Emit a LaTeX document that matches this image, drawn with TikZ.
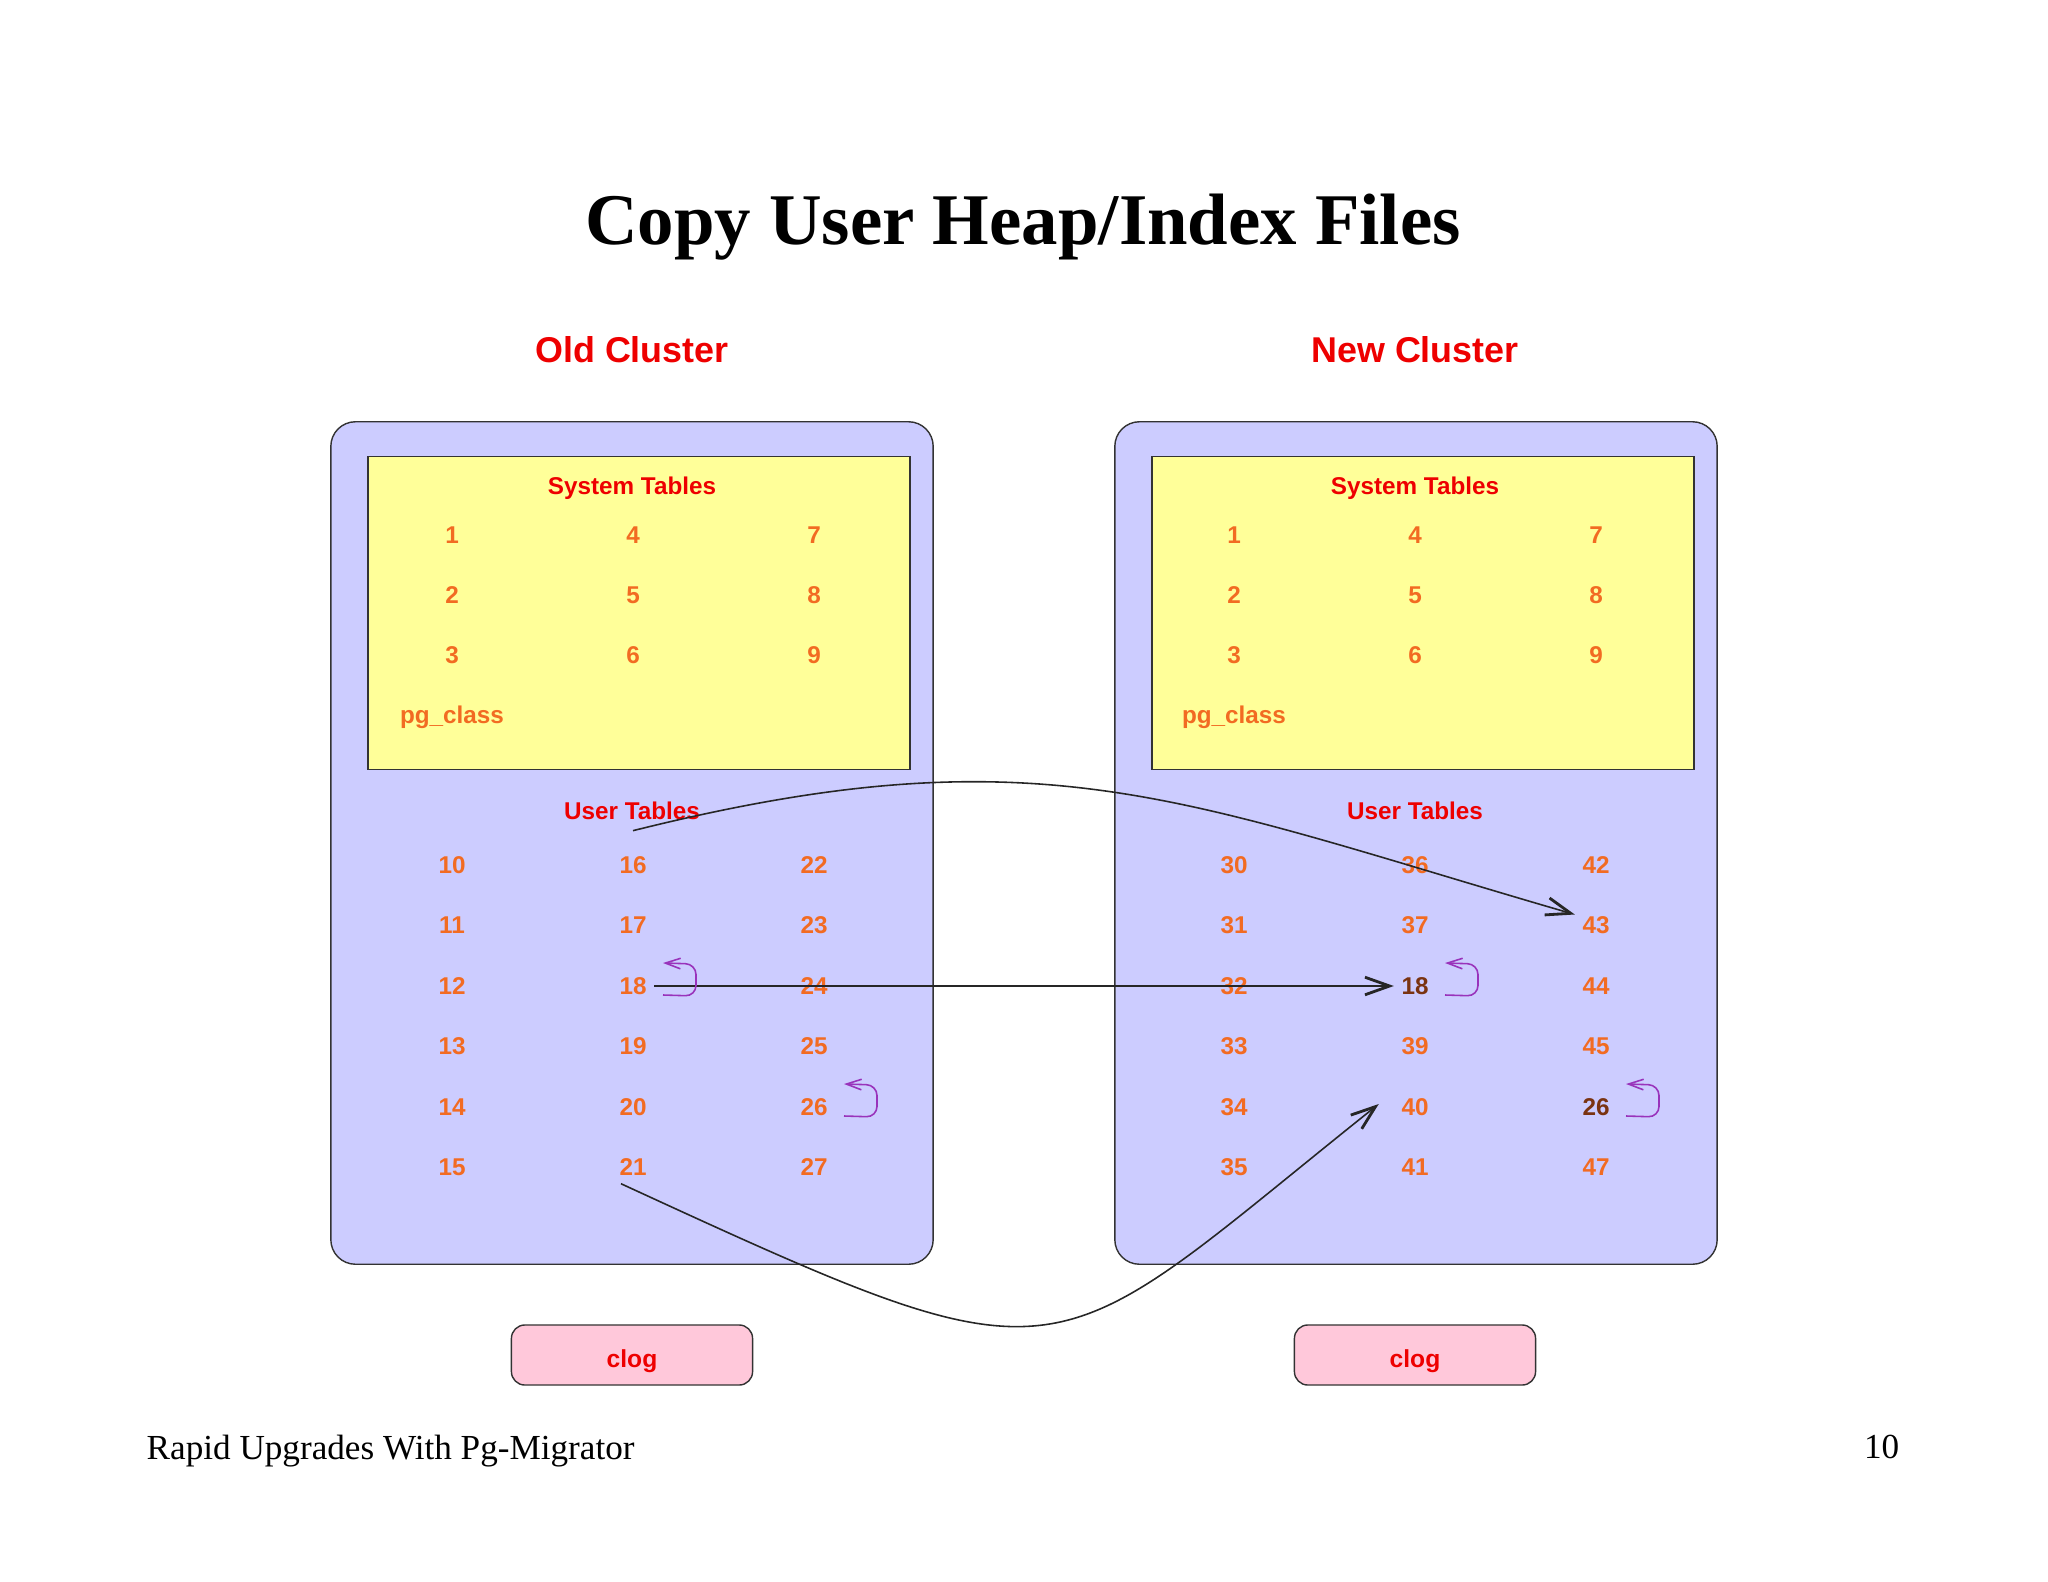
\documentclass[tikz,border=0pt]{standalone}
\usepackage{fontspec}
\setmainfont{Liberation Serif}
\setsansfont{Liberation Sans}
\usepackage{tikz}
\usetikzlibrary{positioning}
\usetikzlibrary{arrows.meta}
\usetikzlibrary{calc}
\definecolor{clusterblue}{HTML}{CCCCFF}
\definecolor{systemyellow}{HTML}{FFFF99}
\definecolor{clogpink}{HTML}{FFC8DA}
\definecolor{labelred}{HTML}{EE0000}
\definecolor{numorange}{HTML}{F26B22}
\definecolor{movedbrown}{HTML}{7A3311}
\definecolor{hookpurple}{HTML}{9933BB}
\tikzset{
  cluster/.style={draw=black!80, fill=clusterblue, rounded corners=7pt, line width=0.4pt,
    minimum width=6.02cm, minimum height=8.42cm},
  systembox/.style={draw=black!80, fill=systemyellow, line width=0.4pt,
    minimum width=5.42cm, minimum height=3.13cm},
  clogbox/.style={draw=black!80, fill=clogpink, rounded corners=3.8pt, line width=0.4pt,
    minimum width=2.41cm, minimum height=0.6cm, text height=7.3pt, text depth=0pt,
    font=\sffamily\bfseries\fontsize{7}{8}\selectfont, text=labelred},
  heading/.style={font=\sffamily\bfseries\fontsize{10.2}{12}\selectfont, text=labelred, anchor=base},
  tablehead/.style={font=\sffamily\bfseries\fontsize{6.9}{8}\selectfont, text=labelred, anchor=base},
  num/.style={font=\sffamily\bfseries\fontsize{6.9}{8}\selectfont, text=numorange, inner sep=2pt},
  moved/.style={num, text=movedbrown},
  copyarrow/.style={-{Straight Barb[length=7pt,width=5pt,line width=0.8pt]}, line width=0.45pt, draw=black!85},
  hookarrow/.style={-{Straight Barb[length=4.3pt,width=3pt]}, draw=hookpurple, line width=0.45pt, rounded corners=3pt},
  footnote/.style={font=\fontsize{10}{12}\selectfont, inner sep=0pt},
}
% small "stays in place" hook right of a file number
\newcommand{\hookback}[1]{\draw[hookarrow] ($(#1)+(30,9)$) -- ++(33,1) -- ++(0,-32) -- ++(-33,-1);}

\begin{document}
\begin{tikzpicture}[x=0.01cm, y=-0.01cm]
\useasboundingbox (0,0) rectangle (2048,1582);
\node[font=\bfseries\fontsize{20.7}{24}\selectfont, anchor=base] (title) at (1023,245) {Copy User Heap/Index Files};

% old cluster
\node[heading] (oldlabel) at (632,362) {Old Cluster};
\node[cluster] (oldc) at (632,843) {};
\node[systembox] (olds) at (639,613) {};
\node[tablehead] (oldsyshead) at (632,494) {System Tables};
\foreach \t [count=\i from 0] in {1,...,9}
  \node[num] (o\t) at ({452+181*int(\i/3)}, {535.5+60*mod(\i,3)}) {\t};
\node[num, anchor=base] (oldpgclass) at (452,723) {pg\_class};
\node[tablehead] (olduserhead) at (632,819) {User Tables};
\foreach \t [count=\i from 0] in {10,...,27}
  \node[num] (o\t) at ({452+181*int(\i/6)}, {865+60.5*mod(\i,6)}) {\t};
\node[clogbox] (oldclog) at (632,1355) {clog};

% new cluster
\node[heading] (newlabel) at (1415,362) {New Cluster};
\node[cluster] (newc) at (1416,843) {};
\node[systembox] (news) at (1423,613) {};
\node[tablehead] (newsyshead) at (1415,494) {System Tables};
\foreach \t [count=\i from 0] in {1,...,9}
  \node[num] (n\t) at ({1234+181*int(\i/3)}, {535.5+60*mod(\i,3)}) {\t};
\node[num, anchor=base] (newpgclass) at (1234,723) {pg\_class};
\node[tablehead] (newuserhead) at (1415,819) {User Tables};
\foreach \t/\s [count=\i from 0] in {30/num,31/num,32/num,33/num,34/num,35/num,
    36/num,37/num,18/moved,39/num,40/num,41/num,42/num,43/num,44/num,45/num,26/moved,47/num}
  \node[\s] (n\t) at ({1234+181*int(\i/6)}, {865+60.5*mod(\i,6)}) {\t};
\node[clogbox] (newclog) at (1415,1355) {clog};

% copied files
\draw[copyarrow] ([yshift=0.18cm]o16.north) .. controls (1040,729) and (1180,800) .. ([yshift=0.11cm]n43.west);
\draw[copyarrow] (o18.east) -- (n18.west);
\draw[copyarrow] ([xshift=-0.12cm]o21.south) .. controls (1080,1395) and (1040,1374) .. ([xshift=-0.15cm,yshift=0.03cm]n40.west);

% relfilenode kept
\hookback{o18}
\hookback{o26}
\hookback{n18}
\hookback{n26}

\node[footnote, anchor=base west] (footer) at (146,1459) {Rapid Upgrades With Pg-Migrator};
\node[footnote, anchor=base east] (pagenum) at (1900,1458) {10};
\end{tikzpicture}
\end{document}
